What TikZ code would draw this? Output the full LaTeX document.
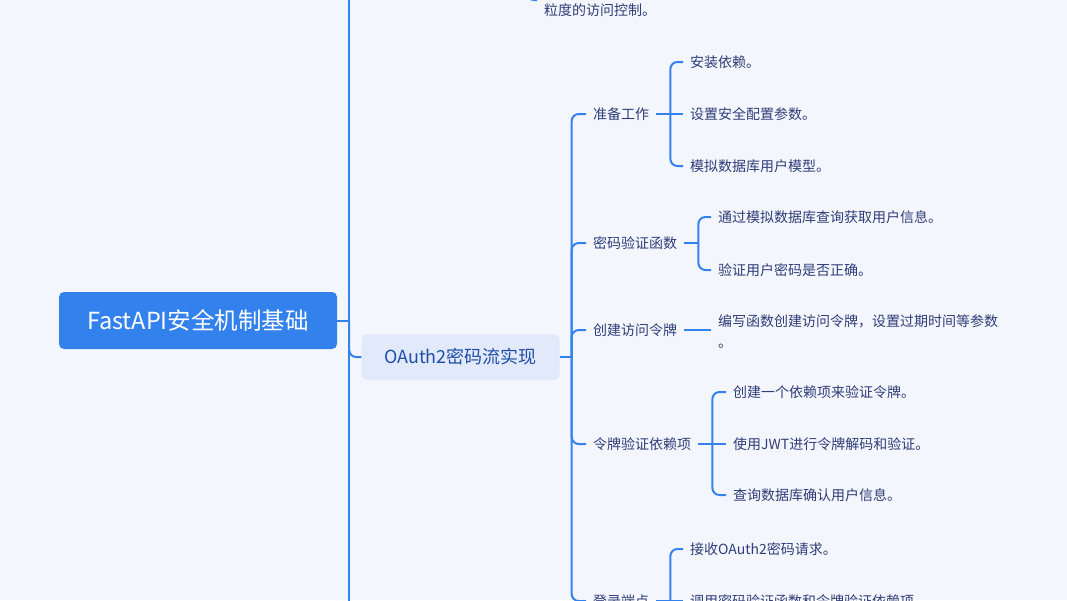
\documentclass[tikz,border=0pt]{standalone}
\usepackage{fontspec}
\setmainfont{Noto Sans CJK SC}
\usetikzlibrary{positioning}
\definecolor{paper}{HTML}{F4F6FD}
\definecolor{branch}{HTML}{3482EE}
\definecolor{rootblue}{HTML}{3281EC}
\definecolor{topicfill}{HTML}{E2E9FB}
\definecolor{topicink}{HTML}{1F4FA6}
\definecolor{ink}{HTML}{2F3D78}
\tikzset{
  link/.style={draw=branch,line width=2pt,rounded corners=7pt},
  rootbox/.style={fill=rootblue,text=white,rounded corners=5pt,
    minimum width=278pt,minimum height=57pt,font=\fontsize{23.5}{28}\selectfont},
  topicbox/.style={fill=topicfill,text=topicink,rounded corners=6pt,
    minimum width=198pt,minimum height=46pt,font=\fontsize{18}{22}\selectfont},
  sub/.style={anchor=west,text=ink,inner xsep=7pt,inner ysep=2pt,
    font=\fontsize{14}{21}\selectfont},
  leaf/.style={sub,align=left}}

\begin{document}
\begin{tikzpicture}[x=1pt,y=-1pt]
\fill[paper] (0,0) rectangle (1067,600);
\useasboundingbox (0,0) rectangle (1067,600);
\clip (0,0) rectangle (1067,600);

% root and main topic
\node[rootbox] (root) at (198,320.5) {FastAPI安全机制基础};
\node[topicbox] (oauth) at (460.5,357) {OAuth2密码流实现};
\coordinate (trunktop) at (349,-20);
\coordinate (trunkbot) at (349,620);
\draw[link] (trunktop) -- (trunkbot);
\draw[link] (root.east) -- ++(12,0) coordinate (rootfork);
\draw[link] (rootfork) |- (oauth.west);

% leftover of the branch above
\node[sub] (grain) at (537,10) {粒度的访问控制。};
\coordinate (grainfork) at (527,-40);
\draw[link] (grainfork) |- ([yshift=10pt]grain.west);

% sub topics
\node[sub] (prep) at (586,114) {准备工作};
\node[sub] (verify) at (586,243) {密码验证函数};
\node[sub] (token) at (586,330) {创建访问令牌};
\node[sub] (depend) at (586,444) {令牌验证依赖项};
\node[sub] (login) at (586,601) {登录端点};
\draw[link] (oauth.east) -- ++(12,0) coordinate (oauthfork);
\foreach \s in {prep,verify,token,depend,login}
  \draw[link] (oauthfork) |- (\s.west);

% leaves
\foreach \s in {prep,verify,depend,login}{
  \coordinate (\s fork) at ([xshift=14pt]\s.east);
  \draw[link] (\s.east) -- (\s fork);}
\foreach \y/\t [count=\i] in {62/安装依赖。,114/设置安全配置参数。,166/模拟数据库用户模型。}
  \node[leaf] (prep\i) at (683,\y) {\t};
\draw[link] (prepfork) -- (prep2.west);
\foreach \i in {1,3} \draw[link] (prepfork) |- (prep\i.west);

\foreach \y/\t [count=\i] in {217/通过模拟数据库查询获取用户信息。,270/验证用户密码是否正确。}{
  \node[leaf] (verify\i) at (711,\y) {\t};
  \draw[link] (verifyfork) |- (verify\i.west);}

\node[leaf] (token1) at (711,331) {编写函数创建访问令牌，设置过期时间等参数\\。};
\draw[link] (token.east) -- (token.east -| token1.west);

\foreach \y/\t [count=\i] in {392/创建一个依赖项来验证令牌。,444/使用JWT进行令牌解码和验证。,495/查询数据库确认用户信息。}
  \node[leaf] (depend\i) at (726,\y) {\t};
\draw[link] (dependfork) -- (depend2.west);
\foreach \i in {1,3} \draw[link] (dependfork) |- (depend\i.west);

\node[leaf] (login1) at (683,549) {接收OAuth2密码请求。};
\node[leaf] (login2) at (683,601) {调用密码验证函数和令牌验证依赖项};
\draw[link] (loginfork) -- (login2.west);
\draw[link] (loginfork) |- (login1.west);
\draw[link] (loginfork) -- (loginfork |- trunkbot);
\end{tikzpicture}
\end{document}
